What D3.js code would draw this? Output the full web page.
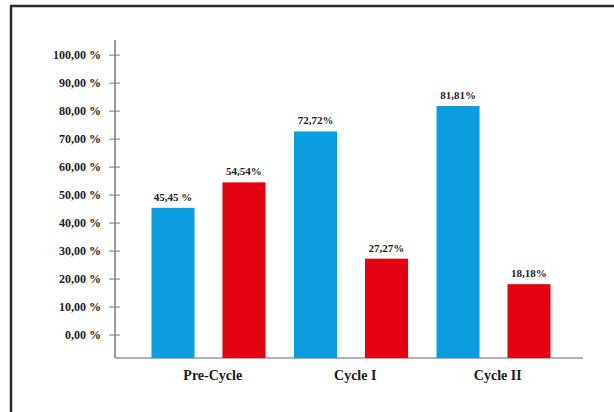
<!DOCTYPE html>
<html>
<head>
<meta charset="utf-8">
<script src="https://cdn.jsdelivr.net/npm/d3@7/dist/d3.min.js"></script>
<style>
  html, body { margin: 0; padding: 0; background: #fff; }
  svg { display: block; }
  svg text { font-family: "Liberation Serif", "DejaVu Serif", "Times New Roman", serif; font-weight: bold; }
</style>
</head>
<body>
<svg id="chart" width="614" height="412"></svg>
<script>
// ---- data ----
const categories = ["Pre-Cycle", "Cycle I", "Cycle II"];
const seriesNames = ["A", "B"];
const seriesA = [45.45, 72.72, 81.81];
const seriesB = [54.54, 27.27, 18.18];
const labelsA = ["45,45 %", "72,72%", "81,81%"];
const labelsB = ["54,54%", "27,27%", "18,18%"];
const tickValues = [0, 10, 20, 30, 40, 50, 60, 70, 80, 90, 100];
const tickLabels = ["0,00 %", "10,00 %", "20,00 %", "30,00 %", "40,00 %", "50,00 %",
                    "60,00 %", "70,00 %", "80,00 %", "90,00 %", "100,00 %"];

const colors = ["#0a9de0", "#e3000f"];
const svg = d3.select("#chart");

// frame
svg.append("path")
  .attr("d", "M11,420 L11,6 L620,6")
  .attr("fill", "none").attr("stroke", "#2b2b2b").attr("stroke-width", 2.5);

const axisX = 115, baseY = 358, topY = 40, rightX = 583;
const y = d3.scaleLinear().domain([-8.2, 105.4]).range([baseY, topY]);
const x = d3.scaleBand().domain(categories).range([132.5, 560]);
const xs = d3.scaleBand().domain(seriesNames).range([19, 133]).paddingInner(0.394);

// y axis line
svg.append("line").attr("x1", axisX).attr("x2", axisX).attr("y1", topY).attr("y2", baseY)
  .attr("stroke", "#777").attr("stroke-width", 1.5);
// baseline
svg.append("line").attr("x1", axisX).attr("x2", rightX).attr("y1", baseY).attr("y2", baseY)
  .attr("stroke", "#999").attr("stroke-width", 1.5);

// ticks
const tg = svg.append("g").selectAll("g").data(tickValues).join("g")
  .attr("transform", d => `translate(0,${y(d)})`);
tg.append("line").attr("x1", axisX - 6).attr("x2", axisX + 5)
  .attr("stroke", "#777").attr("stroke-width", 1);
tg.append("text").attr("x", axisX - 14).attr("dy", "0.35em")
  .attr("text-anchor", "end")
  .attr("font-size", 12)
  .attr("fill", "#222")
  .text((d, i) => tickLabels[i]);

// bars
const data = categories.map((c, i) => ({
  cat: c,
  vals: [
    { s: "A", v: seriesA[i], lab: labelsA[i], col: colors[0] },
    { s: "B", v: seriesB[i], lab: labelsB[i], col: colors[1] }
  ]
}));

const g = svg.append("g").selectAll("g").data(data).join("g")
  .attr("transform", d => `translate(${x(d.cat)},0)`);
g.selectAll("rect").data(d => d.vals).join("rect")
  .attr("x", d => xs(d.s)).attr("width", xs.bandwidth())
  .attr("y", d => y(d.v)).attr("height", d => baseY - y(d.v))
  .attr("fill", d => d.col);
g.selectAll("text.val").data(d => d.vals).join("text")
  .attr("class", "val")
  .attr("x", d => xs(d.s) + xs.bandwidth() / 2)
  .attr("y", d => y(d.v) - 7)
  .attr("text-anchor", "middle")
  .attr("font-size", 11)
  .attr("fill", "#222")
  .text(d => d.lab);

// category labels
svg.append("g").selectAll("text").data(categories).join("text")
  .attr("x", d => x(d) + x.bandwidth() / 2 + 9)
  .attr("y", 380)
  .attr("text-anchor", "middle")
  .attr("font-size", 14)
  .attr("fill", "#1a1a1a")
  .text(d => d);
</script>
</body>
</html>
